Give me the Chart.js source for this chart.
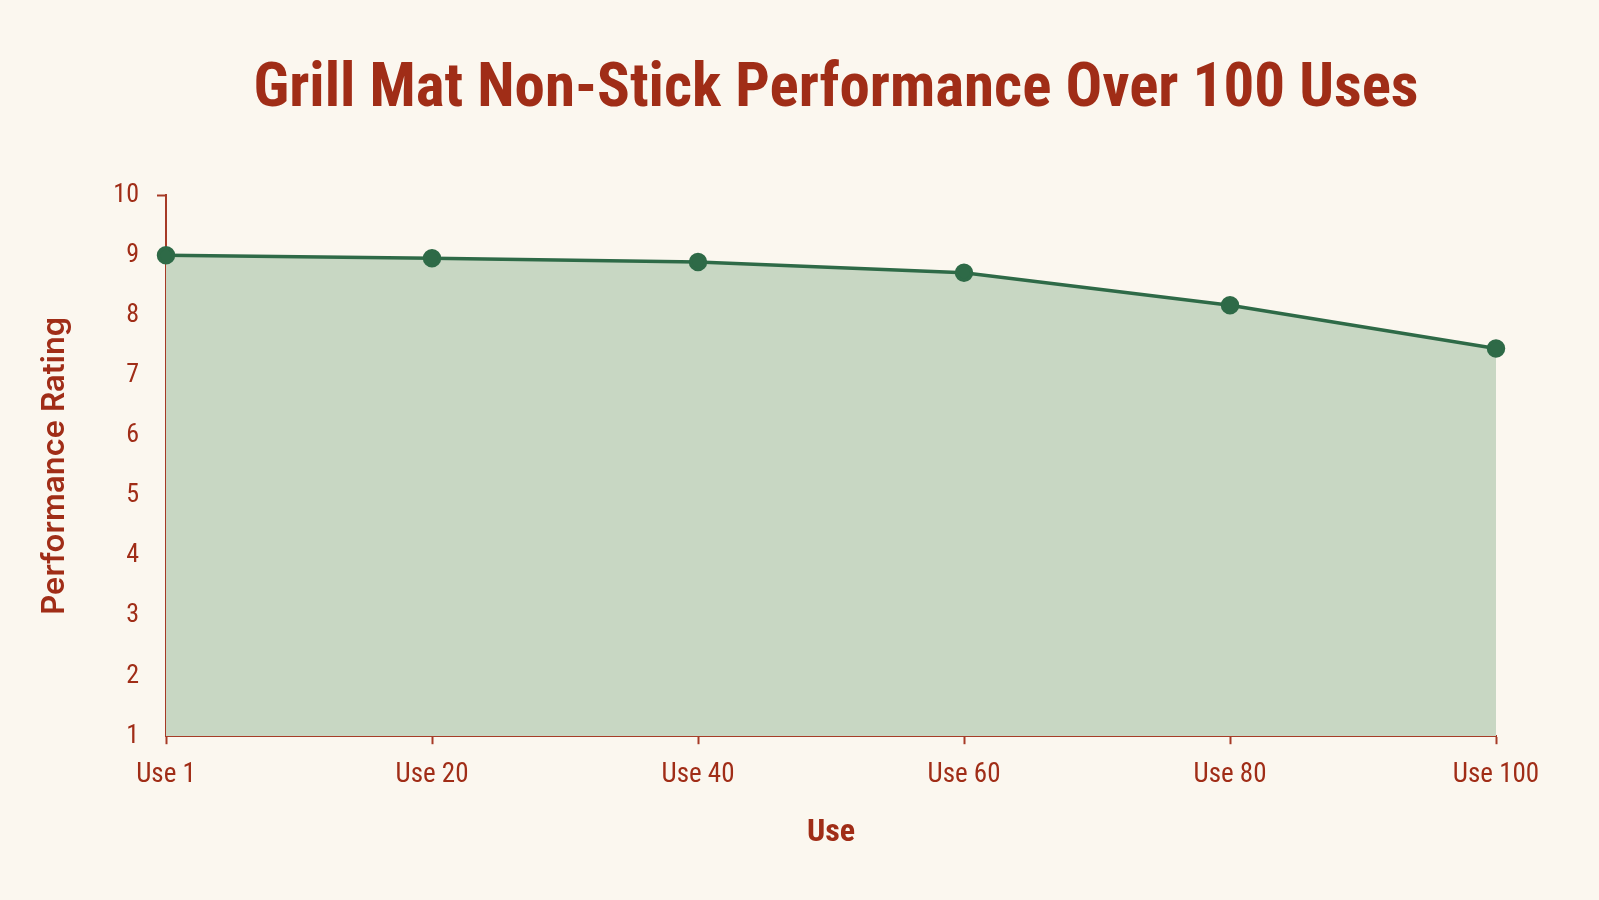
<!DOCTYPE html>
<html>
<head>
<meta charset="utf-8">
<script src="https://cdn.jsdelivr.net/npm/chart.js@4.4.1/dist/chart.umd.min.js"></script>
<style>
  html, body {
    margin: 0;
    padding: 0;
    background: #fbf7ef;
  }
  .chart__wrapper {
    width: 1599px;
    height: 900px;
  }
</style>
</head>
<body>
<div class="chart__wrapper">
  <canvas id="grill-mat-chart"></canvas>
</div>
<script>
  const categories = ["Use 1", "Use 20", "Use 40", "Use 60", "Use 80", "Use 100"];
  const ratings = [9.0, 8.95, 8.89, 8.71, 8.17, 7.45];
  const yTicks = [1, 2, 3, 4, 5, 6, 7, 8, 9, 10];

  const colors = {
    background: "#fbf7ef",
    text: "#a02d17",
    axis: "#a63a26",
    line: "#2e6a47",
    fill: "#c8d7c3",
  };
  const narrowFont = "'Liberation Sans Narrow', 'Roboto Condensed', Roboto, sans-serif";
  const plainFont = "Inter, 'Liberation Sans', sans-serif";

  // the title sits a bit right of the layout box in the original
  const titleShift = {
    id: "titleShift",
    afterLayout(chart) {
      const t = chart.titleBlock;
      if (!t) return;
      t.left += 72;
      t.right += 72;
    },
  };

  const ctx = document.getElementById("grill-mat-chart").getContext("2d");

  new Chart(ctx, {
    type: "line",
    data: {
      labels: categories,
      datasets: [
        {
          label: "Performance Rating",
          data: ratings,
          borderColor: colors.line,
          backgroundColor: colors.fill,
          pointBackgroundColor: colors.line,
          pointBorderColor: colors.line,
          pointRadius: 7.5,
          borderWidth: 3.5,
          fill: "start",
          tension: 0,
          clip: false,
        },
      ],
    },
    options: {
      responsive: true,
      maintainAspectRatio: false,
      animation: false,
      layout: {
        padding: { left: 32, right: 103, bottom: 44 },
      },
      scales: {
        x: {
          type: "category",
          offset: false,
          grid: {
            drawOnChartArea: false,
            tickColor: colors.axis,
            tickLength: 8,
            tickWidth: 2,
          },
          border: { color: colors.axis, width: 2 },
          ticks: {
            color: colors.text,
            padding: 15,
            font: { family: narrowFont, size: 27 },
            maxRotation: 0,
          },
          title: {
            display: true,
            text: "Use",
            color: colors.text,
            font: { family: narrowFont, size: 32, weight: "bold" },
            padding: { top: 7 },
          },
        },
        y: {
          min: 1,
          max: 10,
          afterBuildTicks: (scale) => {
            scale.ticks = yTicks.map((v) => ({ value: v }));
          },
          afterFit: (scale) => {
            scale.width = 134;
          },
          grid: {
            drawOnChartArea: false,
            tickColor: (c) => (c.tick && c.tick.value === 10 ? colors.axis : "transparent"),
            tickLength: 9,
            tickWidth: 2,
          },
          border: { color: colors.axis, width: 2 },
          ticks: {
            color: colors.text,
            padding: 18,
            font: { family: narrowFont, size: 26 },
          },
          title: {
            display: true,
            text: "Performance Rating",
            color: colors.text,
            font: { family: plainFont, size: 31, weight: "600" },
            padding: { bottom: 20 },
          },
        },
      },
      plugins: {
        legend: { display: false },
        tooltip: { enabled: false },
        title: {
          display: true,
          text: "Grill Mat Non-Stick Performance Over 100 Uses",
          color: colors.text,
          font: { family: narrowFont, size: 61, weight: "bold" },
          padding: { top: 54, bottom: 68 },
        },
      },
    },
    plugins: [titleShift],
  });
</script>
</body>
</html>
